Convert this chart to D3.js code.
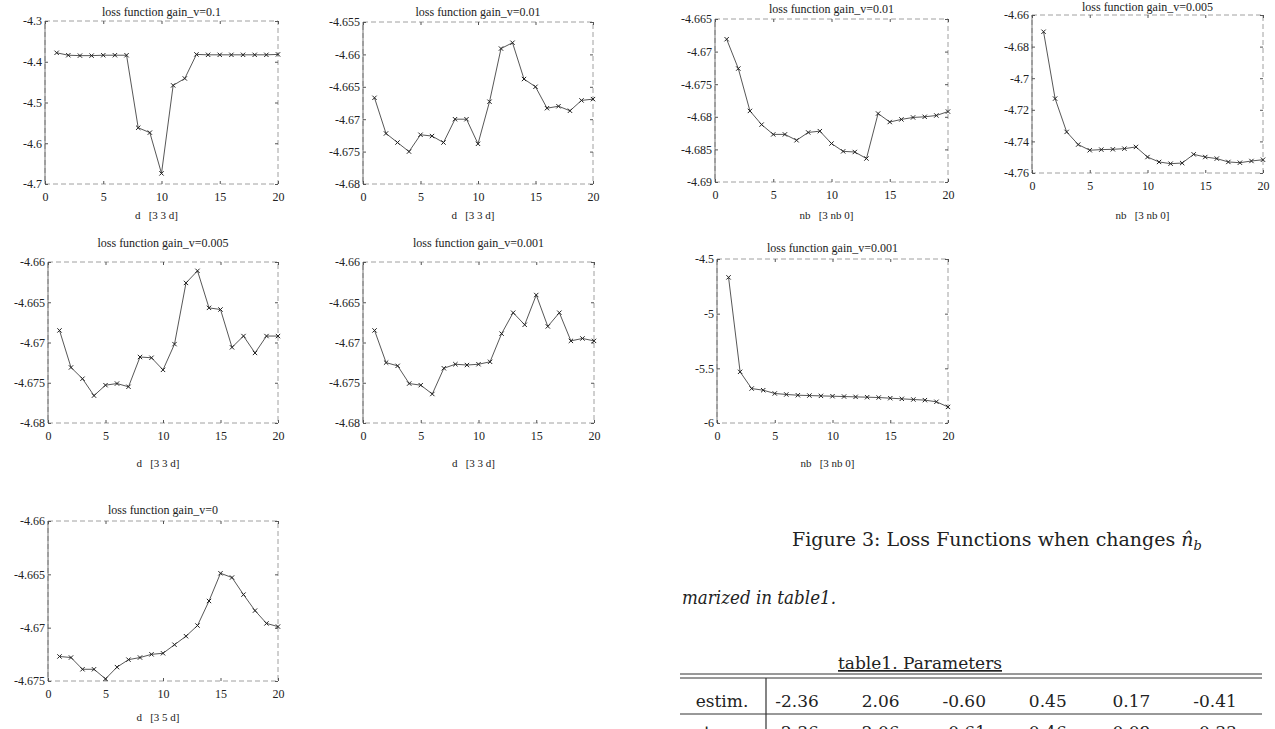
<!DOCTYPE html>
<html>
<head>
<meta charset="utf-8">
<script src="https://cdn.jsdelivr.net/npm/d3@7"></script>
<style>
  body { margin: 0; background: #fff; }
  svg { display: block; }
  text { font-family: "Liberation Serif", "DejaVu Serif", serif; fill: #222; }
</style>
</head>
<body>
<svg width="1275" height="729"></svg>
<script>
// x positions (index d or nb)
const steps = [1,2,3,4,5,6,7,8,9,10,11,12,13,14,15,16,17,18,19,20];

// loss values, one array per panel
const lossD_01   = [-4.378,-4.384,-4.385,-4.385,-4.384,-4.384,-4.384,-4.562,-4.574,-4.674,-4.458,-4.441,-4.382,-4.383,-4.383,-4.383,-4.383,-4.383,-4.383,-4.382];
const lossD_001  = [-4.6667,-4.6722,-4.6736,-4.6750,-4.6724,-4.6726,-4.6736,-4.6700,-4.6700,-4.6738,-4.6673,-4.6591,-4.6582,-4.6638,-4.6650,-4.6683,-4.6680,-4.6687,-4.6671,-4.6669];
const lossNb_001 = [-4.6681,-4.6726,-4.6791,-4.6812,-4.6827,-4.6827,-4.6836,-4.6824,-4.6822,-4.6841,-4.6853,-4.6854,-4.6864,-4.6795,-4.6808,-4.6804,-4.6801,-4.6800,-4.6798,-4.6792];
const lossNb_0005= [-4.6706,-4.7129,-4.7340,-4.7420,-4.7456,-4.7452,-4.7450,-4.7446,-4.7435,-4.7499,-4.7530,-4.7541,-4.7537,-4.7482,-4.7499,-4.7509,-4.7530,-4.7535,-4.7524,-4.7516];
const lossD_0005 = [-4.6685,-4.6731,-4.6745,-4.6766,-4.6753,-4.6751,-4.6755,-4.6718,-4.6719,-4.6734,-4.6702,-4.6626,-4.6611,-4.6657,-4.6659,-4.6706,-4.6692,-4.6713,-4.6692,-4.6692];
const lossD_0001 = [-4.6685,-4.6725,-4.6729,-4.6751,-4.6753,-4.6764,-4.6732,-4.6727,-4.6728,-4.6727,-4.6724,-4.6689,-4.6663,-4.6678,-4.6641,-4.6680,-4.6663,-4.6698,-4.6695,-4.6698];
const lossNb_0001= [-4.668,-5.532,-5.685,-5.700,-5.730,-5.739,-5.746,-5.749,-5.752,-5.755,-5.758,-5.761,-5.764,-5.767,-5.773,-5.779,-5.785,-5.791,-5.806,-5.853];
const lossD_0    = [-4.6727,-4.6728,-4.6739,-4.6739,-4.6748,-4.6737,-4.6730,-4.6728,-4.6725,-4.6724,-4.6716,-4.6708,-4.6698,-4.6675,-4.6649,-4.6653,-4.6669,-4.6684,-4.6696,-4.6699];

// tick values
const xTicks = [0,5,10,15,20];
const yTicks01   = [-4.3,-4.4,-4.5,-4.6,-4.7];
const yTicks001  = [-4.655,-4.66,-4.665,-4.67,-4.675,-4.68];
const yTicksNb01 = [-4.665,-4.67,-4.675,-4.68,-4.685,-4.69];
const yTicksNb05 = [-4.66,-4.68,-4.7,-4.72,-4.74,-4.76];
const yTicks0005 = [-4.66,-4.665,-4.67,-4.675,-4.68];
const yTicksNb001= [-4.5,-5,-5.5,-6];
const yTicks0    = [-4.66,-4.665,-4.67,-4.675];

// table1 values
const paramNames = ["estim.", "true"];
const paramEstim = ["-2.36","2.06","-0.60","0.45","0.17","-0.41"];
const paramTrue  = ["-2.36","2.06","-0.61","0.46","0.09","-0.33"];

const panels = [
  {x0:45,  x1:278, y0:21,  y1:184, ty:16,  ly:219, title:"loss function gain_v=0.1",   xlab:"d   [3 3 d]",   vals:lossD_01,    ticks:yTicks01},
  {x0:363, x1:593, y0:22,  y1:184, ty:16,  ly:219, title:"loss function gain_v=0.01",  xlab:"d   [3 3 d]",   vals:lossD_001,   ticks:yTicks001},
  {x0:715, x1:948, y0:19,  y1:182, ty:13,  ly:219, title:"loss function gain_v=0.01",  xlab:"nb   [3 nb 0]", vals:lossNb_001,  ticks:yTicksNb01},
  {x0:1032,x1:1263,y0:15,  y1:173, ty:11,  ly:219, title:"loss function gain_v=0.005", xlab:"nb   [3 nb 0]", vals:lossNb_0005, ticks:yTicksNb05},
  {x0:48,  x1:278, y0:262, y1:423, ty:247, ly:467, title:"loss function gain_v=0.005", xlab:"d   [3 3 d]",   vals:lossD_0005,  ticks:yTicks0005},
  {x0:363, x1:594, y0:262, y1:423, ty:247, ly:467, title:"loss function gain_v=0.001", xlab:"d   [3 3 d]",   vals:lossD_0001,  ticks:yTicks0005},
  {x0:717, x1:948, y0:259, y1:423, ty:252, ly:467, title:"loss function gain_v=0.001", xlab:"nb   [3 nb 0]", vals:lossNb_0001, ticks:yTicksNb001},
  {x0:48,  x1:278, y0:521, y1:681, ty:514, ly:721, title:"loss function gain_v=0",     xlab:"d   [3 5 d]",   vals:lossD_0,     ticks:yTicks0}
];

const svg = d3.select("svg");
const fmt = d => String(+d.toFixed(4));

panels.forEach(function (p) {
  const ext = d3.extent(p.ticks);
  const x = d3.scaleLinear().domain([0, 20]).range([p.x0, p.x1]);
  const y = d3.scaleLinear().domain(ext).range([p.y1, p.y0]);
  const g = svg.append("g");

  // box, dashed like the faded scan
  g.append("rect")
    .attr("x", p.x0).attr("y", p.y0)
    .attr("width", p.x1 - p.x0).attr("height", p.y1 - p.y0)
    .attr("fill", "none").attr("stroke", "#888")
    .attr("stroke-width", 0.8).attr("stroke-dasharray", "5,3");
  g.append("line")
    .attr("x1", p.x0).attr("x2", p.x0).attr("y1", p.y0).attr("y2", p.y1)
    .attr("stroke", "#555").attr("stroke-width", 0.8);

  g.append("g").attr("transform", "translate(" + p.x0 + ",0)")
    .call(d3.axisLeft(y).tickValues(p.ticks).tickFormat(fmt).tickSizeInner(-3).tickSizeOuter(0).tickPadding(3));
  g.append("g").attr("transform", "translate(0," + p.y1 + ")")
    .call(d3.axisBottom(x).tickValues(xTicks).tickFormat(d3.format("d")).tickSizeInner(-3).tickSizeOuter(0).tickPadding(8));
  g.append("g").attr("transform", "translate(" + p.x1 + ",0)")
    .call(d3.axisRight(y).tickValues(p.ticks).tickFormat("").tickSizeInner(-3).tickSizeOuter(0));
  g.append("g").attr("transform", "translate(0," + p.y0 + ")")
    .call(d3.axisTop(x).tickValues(xTicks).tickFormat("").tickSizeInner(-3).tickSizeOuter(0));

  g.selectAll(".domain").remove();
  g.selectAll(".tick line").attr("stroke", "#555");
  g.selectAll(".tick text")
    .style("font-family", "'Liberation Serif', serif")
    .style("font-size", "12px").attr("fill", "#333");

  g.append("text")
    .attr("x", (p.x0 + p.x1) / 2).attr("y", p.ty)
    .attr("text-anchor", "middle").style("font-size", "12px")
    .text(p.title);
  g.append("text")
    .attr("x", (p.x0 + p.x1) / 2 - 5).attr("y", p.ly)
    .attr("text-anchor", "middle").style("font-size", "11px")
    .attr("xml:space", "preserve")
    .text(p.xlab);

  const line = d3.line().x((d, i) => x(steps[i])).y(d => y(d));
  g.append("path").datum(p.vals)
    .attr("d", line).attr("fill", "none")
    .attr("stroke", "#444").attr("stroke-width", 0.9);

  g.selectAll(".mk").data(p.vals).enter().append("path")
    .attr("transform", (d, i) => "translate(" + x(steps[i]) + "," + y(d) + ")")
    .attr("d", d3.symbol().type(d3.symbolTimes || d3.symbolCross).size(14))
    .attr("fill", "none").attr("stroke", "#222").attr("stroke-width", 1);
});

// caption and text of the page
const cap = svg.append("text").attr("x", 792).attr("y", 546)
  .style("font-size", "19px").style("font-family", "'DejaVu Serif', serif").attr("fill", "#333");
cap.append("tspan").text("Figure 3: Loss Functions when changes ");
cap.append("tspan").style("font-style", "italic").text("n\u0302");
cap.append("tspan").attr("dy", 4).style("font-size", "13px").style("font-style", "italic").text("b");

svg.append("text").attr("x", 682).attr("y", 604)
  .style("font-size", "18px").style("font-style", "italic")
  .style("font-family", "'DejaVu Serif', serif").attr("fill", "#333")
  .attr("textLength", 154).attr("lengthAdjust", "spacingAndGlyphs")
  .text("marized in table1.");

// table1
const tx = d3.scalePoint().domain(d3.range(paramEstim.length)).range([797, 1215]);
svg.append("text").attr("x", 920).attr("y", 669)
  .attr("text-anchor", "middle").style("font-size", "17px")
  .style("font-family", "'DejaVu Serif', serif").attr("fill", "#333")
  .style("text-decoration", "underline")
  .text("table1. Parameters");
[674, 678, 714].forEach(function (yy) {
  svg.append("line").attr("x1", 680).attr("x2", 1262).attr("y1", yy).attr("y2", yy)
    .attr("stroke", "#333").attr("stroke-width", 1);
});
svg.append("line").attr("x1", 766).attr("x2", 766).attr("y1", 678).attr("y2", 729)
  .attr("stroke", "#333").attr("stroke-width", 1.2);

// second row is cut by the page edge, as in the scan
[paramEstim, paramTrue].forEach(function (row, r) {
  const yy = 707 + r * 31;
  svg.append("text").attr("x", 722).attr("y", yy).attr("text-anchor", "middle")
    .style("font-size", "17px").style("font-family", "'DejaVu Serif', serif").attr("fill", "#333")
    .text(paramNames[r]);
  svg.selectAll(".cell" + r).data(row).enter().append("text")
    .attr("x", (d, i) => tx(i)).attr("y", yy).attr("text-anchor", "middle")
    .style("font-size", "17px").style("font-family", "'DejaVu Serif', serif").attr("fill", "#333")
    .text(d => d);
});
</script>
</body>
</html>
